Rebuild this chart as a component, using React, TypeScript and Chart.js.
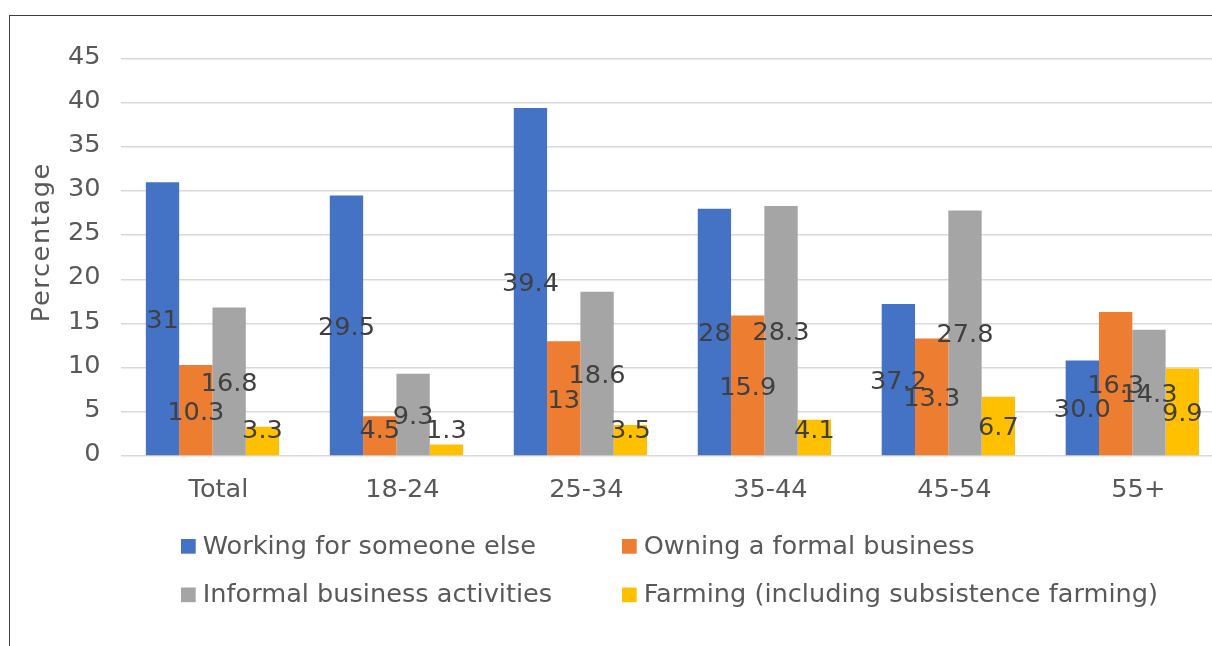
import React, { useEffect, useRef } from 'react';
import { Chart, registerables } from 'chart.js';

Chart.register(...registerables);

// ---- data ----
const categories = ['Total', '18-24', '25-34', '35-44', '45-54', '55+'];
const seriesNames = [
  'Working for someone else',
  'Owning a formal business',
  'Informal business activities',
  'Farming (including subsistence farming)',
];
const working = [31, 29.5, 39.4, 28, 17.2, 10.8];
const owning = [10.3, 4.5, 13, 15.9, 13.3, 16.3];
const informal = [16.8, 9.3, 18.6, 28.3, 27.8, 14.3];
const farming = [3.3, 1.3, 3.5, 4.1, 6.7, 9.9];
// data label texts as printed in the source chart
const workingLabels = ['31', '29.5', '39.4', '28', '37.2', '30.0'];
const owningLabels = ['10.3', '4.5', '13', '15.9', '13.3', '16.3'];
const informalLabels = ['16.8', '9.3', '18.6', '28.3', '27.8', '14.3'];
const farmingLabels = ['3.3', '1.3', '3.5', '4.1', '6.7', '9.9'];
const yMin = 0;
const yMax = 45;
const yStep = 5;
const yTitle = 'Percentage';

const colors = ['#4472C4', '#ED7D31', '#A5A5A5', '#FFC000'];
const FONT = "'DejaVu Sans', sans-serif";
const FS = 25.6;

const dataLabelPlugin = {
  id: 'dataLabelPlugin',
  afterDatasetsDraw(chart: any) {
    const ctx = chart.ctx;
    const yScale = chart.scales.y;
    const zero = yScale.getPixelForValue(0);
    ctx.save();
    ctx.font = `${FS}px ${FONT}`;
    ctx.fillStyle = '#404040';
    ctx.textAlign = 'center';
    ctx.textBaseline = 'alphabetic';
    chart.data.datasets.forEach((ds: any, i: number) => {
      const meta = chart.getDatasetMeta(i);
      meta.data.forEach((el: any, j: number) => {
        const v = ds.data[j];
        let yc = yScale.getPixelForValue(v / 2);
        yc = Math.min(yc, zero - 27);
        ctx.fillText(ds.labelTexts[j], el.x, yc + 9);
      });
    });
    ctx.restore();
  },
};

const legendPlugin = {
  id: 'customLegend',
  afterDraw(chart: any) {
    const ctx = chart.ctx;
    const area = chart.chartArea;
    const colX = [area.left + 60.5, area.left + 501.5];
    const rowY = [area.bottom + 83, area.bottom + 131.5];
    const box = 14.7;
    ctx.save();
    ctx.font = `${FS}px ${FONT}`;
    ctx.textAlign = 'left';
    ctx.textBaseline = 'alphabetic';
    chart.data.datasets.forEach((ds: any, i: number) => {
      const x = colX[i % 2];
      const y = rowY[Math.floor(i / 2)];
      ctx.fillStyle = ds.backgroundColor;
      ctx.fillRect(x, y, box, box);
      ctx.fillStyle = '#595959';
      ctx.fillText(ds.label, x + box + 7, y + box);
    });
    ctx.restore();
  },
};

const yTitlePlugin = {
  id: 'yTitlePlugin',
  afterDraw(chart: any) {
    const ctx = chart.ctx;
    const area = chart.chartArea;
    ctx.save();
    ctx.font = `${FS}px ${FONT}`;
    ctx.fillStyle = '#595959';
    ctx.textAlign = 'center';
    ctx.textBaseline = 'alphabetic';
    try {
      (ctx as any).letterSpacing = '1.6px';
    } catch (e) {}
    ctx.translate(48.5, area.top + (area.bottom - area.top) * 0.462);
    ctx.rotate(-Math.PI / 2);
    ctx.fillText(yTitle, 0, 0);
    ctx.restore();
  },
};

export default function App() {
  const ref = useRef<HTMLCanvasElement>(null);

  useEffect(() => {
    if (!ref.current) return;
    Chart.defaults.font.family = FONT;
    Chart.defaults.font.size = FS;
    Chart.defaults.color = '#595959';
    const series = [working, owning, informal, farming];
    const labelSets = [workingLabels, owningLabels, informalLabels, farmingLabels];
    const chart = new Chart(ref.current, {
      type: 'bar',
      data: {
        labels: categories,
        datasets: series.map((d, i) => ({
          label: seriesNames[i],
          data: d,
          labelTexts: labelSets[i],
          backgroundColor: colors[i],
          borderWidth: 0,
          barPercentage: 1,
          categoryPercentage: 0.7245,
        })) as any,
      },
      options: {
        animation: false,
        responsive: false,
        devicePixelRatio: 1,
        layout: { padding: { left: 0, right: 15.7, top: 58.5, bottom: 0 } },
        plugins: {
          legend: { display: false },
          tooltip: { enabled: false },
          title: { display: false },
        },
        scales: {
          x: {
            grid: { display: false, drawTicks: false },
            border: { display: false },
            ticks: {
              color: '#595959',
              font: { family: FONT, size: FS },
              padding: 19,
              labelOffset: 6,
              maxRotation: 0,
              autoSkip: false,
            },
            afterFit: (scale: any) => {
              scale.height = 190;
            },
          },
          y: {
            min: yMin,
            max: yMax,
            grid: { color: '#d9d9d9', lineWidth: 1.5, drawTicks: false },
            border: { display: false },
            ticks: {
              stepSize: yStep,
              color: '#595959',
              font: { family: FONT, size: FS },
              padding: 20,
              labelOffset: -1.5,
            },
            afterFit: (scale: any) => {
              scale.width = 120.5;
            },
          },
        },
      } as any,
      plugins: [dataLabelPlugin, legendPlugin, yTitlePlugin],
    });
    return () => chart.destroy();
  }, []);

  return (
    <div
      style={{
        position: 'fixed',
        left: 0,
        top: 0,
        width: 1212,
        height: 646,
        overflow: 'hidden',
        background: '#ffffff',
      }}
    >
      <canvas ref={ref} width={1240} height={646} style={{ display: 'block', position: 'absolute', left: 0, top: 0 }} />
      <div
        style={{
          position: 'absolute',
          left: 9,
          top: 15,
          width: 1300,
          height: 700,
          borderLeft: '1px solid #3f3f3f',
          borderTop: '1.5px solid #3f3f3f',
          pointerEvents: 'none',
        }}
      />
    </div>
  );
}
